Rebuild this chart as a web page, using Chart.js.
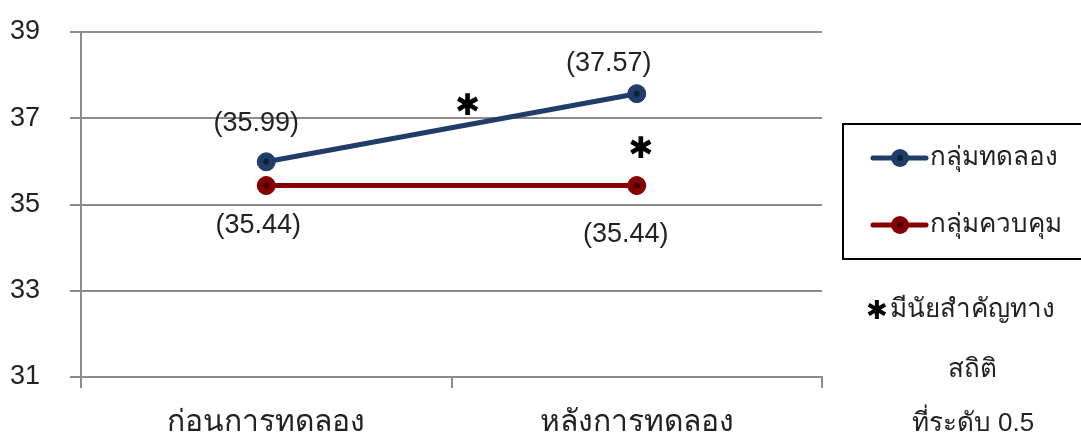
<!DOCTYPE html>
<html>
<head>
<meta charset="utf-8">
<script src="https://cdn.jsdelivr.net/npm/chart.js"></script>
<style>
body { margin: 0; background: #fff; }
#wrap { width: 1081px; height: 439px; }
</style>
</head>
<body>
<div id="wrap"><canvas id="myChart" width="1081" height="439"></canvas></div>
<script>
// ข้อมูล
var categories = ["ก่อนการทดลอง", "หลังการทดลอง"];
var seriesNames = ["กลุ่มทดลอง", "กลุ่มควบคุม"];
var experimentValues = [35.99, 37.57];
var controlValues = [35.44, 35.44];
var yTicks = [31, 33, 35, 37, 39];
var noteLines = ["มีนัยสำคัญทาง", "สถิติ", "ที่ระดับ 0.5"];

var font = "'Liberation Sans', 'Noto Sans', sans-serif";
var navy = "#1f3d68";
var red = "#870000";

// ตำแหน่งป้ายค่า (dx, dy จากจุด)
var labelOffsets = [
  [[-10, -38], [-28, -30]],
  [[-8, 40], [-11, 49]]
];

var extras = {
  id: 'extras',
  afterDatasetsDraw: function(chart) {
    var ctx = chart.ctx;
    ctx.save();
    // จุดเข้มตรงกลาง marker
    chart.data.datasets.forEach(function(ds, i) {
      var meta = chart.getDatasetMeta(i);
      meta.data.forEach(function(pt) {
        ctx.beginPath();
        ctx.fillStyle = i == 0 ? "#0e1f38" : "#3a0000";
        ctx.arc(pt.x, pt.y, 3, 0, Math.PI * 2);
        ctx.fill();
      });
    });
    // ป้ายค่า
    ctx.font = "27px " + font;
    ctx.fillStyle = "#222";
    ctx.textAlign = "center";
    ctx.textBaseline = "middle";
    chart.data.datasets.forEach(function(ds, i) {
      var meta = chart.getDatasetMeta(i);
      meta.data.forEach(function(pt, j) {
        var off = labelOffsets[i][j];
        ctx.fillText("(" + ds.data[j].toFixed(2) + ")", pt.x + off[0], pt.y + off[1]);
      });
    });
    // ดอกจัน
    var p0 = chart.getDatasetMeta(0).data;
    var p1 = chart.getDatasetMeta(1).data;
    ctx.font = "bold 30px 'DejaVu Sans', sans-serif";
    ctx.fillStyle = "#000";
    ctx.fillText("✱", (p0[0].x + p0[1].x) / 2 + 16, (p0[0].y + p0[1].y) / 2 - 21);
    ctx.fillText("✱", p1[1].x + 4, p1[1].y - 35);

    // legend
    ctx.strokeStyle = "#000";
    ctx.lineWidth = 2;
    ctx.strokeRect(843, 124, 240, 135);
    var rows = [158, 225];
    chart.data.datasets.forEach(function(ds, i) {
      var y = rows[i];
      ctx.strokeStyle = ds.borderColor;
      ctx.lineWidth = 5;
      ctx.lineCap = "round";
      ctx.beginPath();
      ctx.moveTo(873, y);
      ctx.lineTo(926, y);
      ctx.stroke();
      ctx.beginPath();
      ctx.fillStyle = ds.borderColor;
      ctx.arc(900, y, 9, 0, Math.PI * 2);
      ctx.fill();
      ctx.beginPath();
      ctx.fillStyle = i == 0 ? "#0e1f38" : "#3a0000";
      ctx.arc(900, y, 3, 0, Math.PI * 2);
      ctx.fill();
      ctx.fillStyle = "#222";
      ctx.font = "26px " + font;
      ctx.textAlign = "left";
      ctx.fillText(ds.label, 930, y);
    });

    // หมายเหตุ
    ctx.fillStyle = "#000";
    ctx.font = "bold 26px 'DejaVu Sans', sans-serif";
    ctx.textAlign = "center";
    ctx.fillText("✱", 877, 312);
    ctx.fillStyle = "#222";
    ctx.font = "26px " + font;
    ctx.textAlign = "left";
    ctx.fillText(noteLines[0], 890, 310);
    ctx.textAlign = "center";
    ctx.fillText(noteLines[1], 972, 370);
    ctx.fillText(noteLines[2], 973, 424);
    ctx.restore();
  }
};

var canvas = document.getElementById('myChart');
var myLineChart = new Chart(canvas, {
  type: 'line',
  data: {
    labels: categories,
    datasets: [{
      label: seriesNames[0],
      data: experimentValues,
      borderColor: navy,
      backgroundColor: navy,
      pointBackgroundColor: navy,
      pointBorderColor: navy,
      borderWidth: 5,
      pointRadius: 9,
      pointBorderWidth: 1,
      fill: false,
      tension: 0
    }, {
      label: seriesNames[1],
      data: controlValues,
      borderColor: red,
      backgroundColor: red,
      pointBackgroundColor: red,
      pointBorderColor: red,
      borderWidth: 5,
      pointRadius: 9,
      pointBorderWidth: 1,
      fill: false,
      tension: 0
    }]
  },
  options: {
    responsive: false,
    animation: false,
    layout: { padding: { top: 32, right: 259, left: 0, bottom: 0 } },
    plugins: { legend: { display: false }, tooltip: { enabled: false } },
    scales: {
      x: {
        offset: true,
        grid: { offset: true, drawOnChartArea: false, drawTicks: true, tickLength: 11, color: "#8c8c8c", lineWidth: 2 },
        border: { color: "#8c8c8c", width: 2 },
        ticks: { color: "#222", font: { family: font, size: 30 }, padding: 17 },
        afterFit: function(s) { s.height = 62; }
      },
      y: {
        min: 31,
        max: 39,
        afterBuildTicks: function(s) { s.ticks = yTicks.map(function(v) { return { value: v }; }); },
        grid: { color: "#8c8c8c", lineWidth: 2, tickLength: 11 },
        border: { color: "#8c8c8c", width: 2 },
        ticks: { color: "#222", font: { family: font, size: 27 }, padding: 30 },
        afterFit: function(s) { s.width = 81; s.paddingTop = 0; s.paddingBottom = 0; }
      }
    }
  },
  plugins: [extras]
});
</script>
</body>
</html>
